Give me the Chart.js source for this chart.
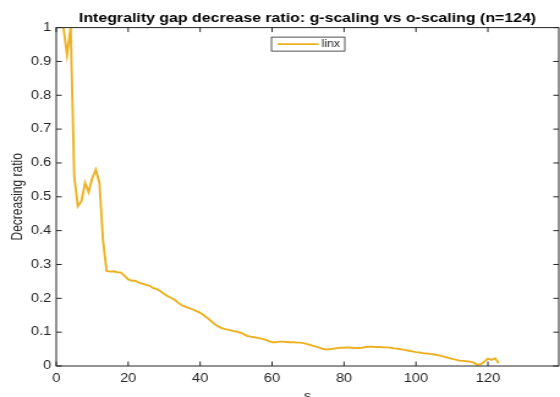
<!DOCTYPE html>
<html>
<head>
<meta charset="utf-8">
<script src="https://cdn.jsdelivr.net/npm/chart.js@4/dist/chart.umd.min.js"></script>
<style>
  html, body { margin: 0; padding: 0; background: #fff; overflow: hidden; }
  #wrap {
    position: absolute; left: 0; top: 0;
    width: 458px; height: 397px;
    transform: scaleX(1.2227); transform-origin: 0 0;
  }
</style>
</head>
<body>
<div id="wrap"><canvas id="c"></canvas></div>
<script>
// s (number of scaling steps) and the matching decrease ratio
const sValues = [
  2, 3, 4, 5, 6, 7, 8, 9, 10, 11,
  12, 13, 14, 15, 16, 17, 18, 19, 20, 21,
  22, 23, 24, 25, 26, 27, 28, 29, 30, 31,
  32, 33, 34, 35, 36, 37, 38, 39, 40, 41,
  42, 43, 44, 45, 46, 47, 48, 49, 50, 51,
  52, 53, 54, 55, 56, 57, 58, 59, 60, 61,
  62, 63, 64, 65, 66, 67, 68, 69, 70, 71,
  72, 73, 74, 75, 76, 77, 78, 79, 80, 81,
  82, 83, 84, 85, 86, 87, 88, 89, 90, 91,
  92, 93, 94, 95, 96, 97, 98, 99, 100, 101,
  102, 103, 104, 105, 106, 107, 108, 109, 110, 111,
  112, 113, 114, 115, 116, 117, 118, 119, 120, 121,
  122, 123
];
const ratioLinx = [
  1.00, 0.92, 1.00, 0.56, 0.472, 0.487, 0.541, 0.514, 0.555, 0.580,
  0.541, 0.372, 0.281, 0.279, 0.280, 0.277, 0.276, 0.266, 0.256, 0.252,
  0.252, 0.246, 0.243, 0.240, 0.237, 0.230, 0.227, 0.221, 0.213, 0.206,
  0.201, 0.195, 0.186, 0.179, 0.175, 0.171, 0.167, 0.162, 0.157, 0.150,
  0.142, 0.133, 0.124, 0.117, 0.112, 0.109, 0.107, 0.104, 0.102, 0.099,
  0.095, 0.089, 0.087, 0.085, 0.083, 0.081, 0.078, 0.074, 0.070, 0.070,
  0.072, 0.072, 0.071, 0.070, 0.070, 0.069, 0.069, 0.067, 0.064, 0.061,
  0.058, 0.055, 0.051, 0.049, 0.050, 0.051, 0.053, 0.054, 0.054, 0.055,
  0.054, 0.053, 0.053, 0.054, 0.056, 0.057, 0.057, 0.056, 0.056, 0.055,
  0.055, 0.054, 0.052, 0.051, 0.049, 0.047, 0.045, 0.043, 0.041, 0.040,
  0.038, 0.037, 0.036, 0.034, 0.032, 0.030, 0.027, 0.024, 0.021, 0.019,
  0.016, 0.015, 0.014, 0.013, 0.010, 0.004, 0.005, 0.013, 0.022, 0.018,
  0.023, 0.008
];
const seriesName = 'linx';

const xTickValues = [0, 20, 40, 60, 80, 100, 120];
const xTickLabels = ['0', '20', '40', '60', '80', '100', '120'];
const yTickValues = [0, 0.1, 0.2, 0.3, 0.4, 0.5, 0.6, 0.7, 0.8, 0.9, 1];
const yTickLabels = ['0', '0.1', '0.2', '0.3', '0.4', '0.5', '0.6', '0.7', '0.8', '0.9', '1'];

const FONT = "'Liberation Sans', Arial, Helvetica, sans-serif";
const AXIS_COLOR = '#262626';
const LINE_COLOR = '#EDB120';

// Boxed axes with inward tick marks on all four sides
const boxAxes = {
  id: 'boxAxes',
  afterDatasetsDraw(chart) {
    const { ctx, chartArea: a, scales: { x, y } } = chart;
    const tl = 4.5;
    ctx.save();
    ctx.strokeStyle = AXIS_COLOR;
    ctx.lineWidth = 1;
    ctx.strokeRect(a.left, a.top, a.right - a.left, a.bottom - a.top);
    ctx.beginPath();
    x.ticks.forEach(t => {
      const px = x.getPixelForValue(t.value);
      ctx.moveTo(px, a.bottom); ctx.lineTo(px, a.bottom - tl);
      ctx.moveTo(px, a.top); ctx.lineTo(px, a.top + tl);
    });
    y.ticks.forEach(t => {
      const py = y.getPixelForValue(t.value);
      ctx.moveTo(a.left, py); ctx.lineTo(a.left + tl, py);
      ctx.moveTo(a.right, py); ctx.lineTo(a.right - tl, py);
    });
    ctx.stroke();
    ctx.restore();
  }
};

// Framed legend centred at the top of the plot
const boxLegend = {
  id: 'boxLegend',
  afterDraw(chart) {
    const { ctx, chartArea: a } = chart;
    const ds = chart.data.datasets[0];
    const w = 60, h = 14;
    const left = (a.left + a.right) / 2 - w / 2 + 0.5;
    const top = a.top + 9.5;
    ctx.save();
    ctx.fillStyle = '#fff';
    ctx.fillRect(left, top, w, h);
    ctx.strokeStyle = AXIS_COLOR;
    ctx.lineWidth = 0.8;
    ctx.strokeRect(left, top, w, h);
    ctx.strokeStyle = ds.borderColor;
    ctx.lineWidth = ds.borderWidth;
    ctx.beginPath();
    ctx.moveTo(left + 5, top + h / 2);
    ctx.lineTo(left + 38.5, top + h / 2);
    ctx.stroke();
    ctx.fillStyle = AXIS_COLOR;
    ctx.font = '10px ' + FONT;
    ctx.textBaseline = 'middle';
    ctx.textAlign = 'left';
    ctx.fillText(ds.label, left + 41, top + h / 2 + 0.5);
    ctx.restore();
  }
};

new Chart(document.getElementById('c'), {
  type: 'line',
  data: {
    datasets: [{
      label: seriesName,
      data: sValues.map((s, i) => ({ x: s, y: ratioLinx[i] })),
      borderColor: LINE_COLOR,
      backgroundColor: LINE_COLOR,
      borderWidth: 1.9,
      pointRadius: 0,
      tension: 0,
      fill: false
    }]
  },
  options: {
    responsive: true,
    maintainAspectRatio: false,
    animation: false,
    layout: { padding: { left: 0, right: 1, top: 0, bottom: 0 } },
    plugins: {
      legend: { display: false },
      tooltip: { enabled: false },
      title: {
        display: true,
        fullSize: false,
        text: 'Integrality gap decrease ratio: g-scaling vs o-scaling (n=124)',
        color: '#000',
        font: { family: FONT, size: 13, weight: 'bold' },
        padding: { top: 11, bottom: 1 }
      }
    },
    scales: {
      x: {
        type: 'linear',
        min: 0,
        max: 139.7,
        afterBuildTicks: s => { s.ticks = xTickValues.map(v => ({ value: v })); },
        afterFit: s => { s.height = 31; },
        grid: { display: false, drawTicks: false },
        border: { display: false },
        ticks: {
          padding: 5,
          color: AXIS_COLOR,
          maxRotation: 0,
          autoSkip: false,
          font: { family: FONT, size: 12 },
          callback: (v, i) => xTickLabels[i]
        },
        title: {
          display: true,
          text: 's',
          color: AXIS_COLOR,
          font: { family: FONT, size: 12 },
          padding: { top: 0, bottom: -7 }
        }
      },
      y: {
        min: 0,
        max: 1,
        afterBuildTicks: s => { s.ticks = yTickValues.map(v => ({ value: v })); },
        afterFit: s => { s.width = 46; },
        grid: { display: false, drawTicks: false },
        border: { display: false },
        ticks: {
          padding: 4,
          color: AXIS_COLOR,
          autoSkip: false,
          font: { family: FONT, size: 12 },
          callback: (v, i) => yTickLabels[i]
        },
        title: {
          display: true,
          text: 'Decreasing ratio',
          color: AXIS_COLOR,
          font: { family: FONT, size: 12 },
          padding: { top: 7.5, bottom: 0 }
        }
      }
    }
  },
  plugins: [boxAxes, boxLegend]
});
</script>
</body>
</html>
